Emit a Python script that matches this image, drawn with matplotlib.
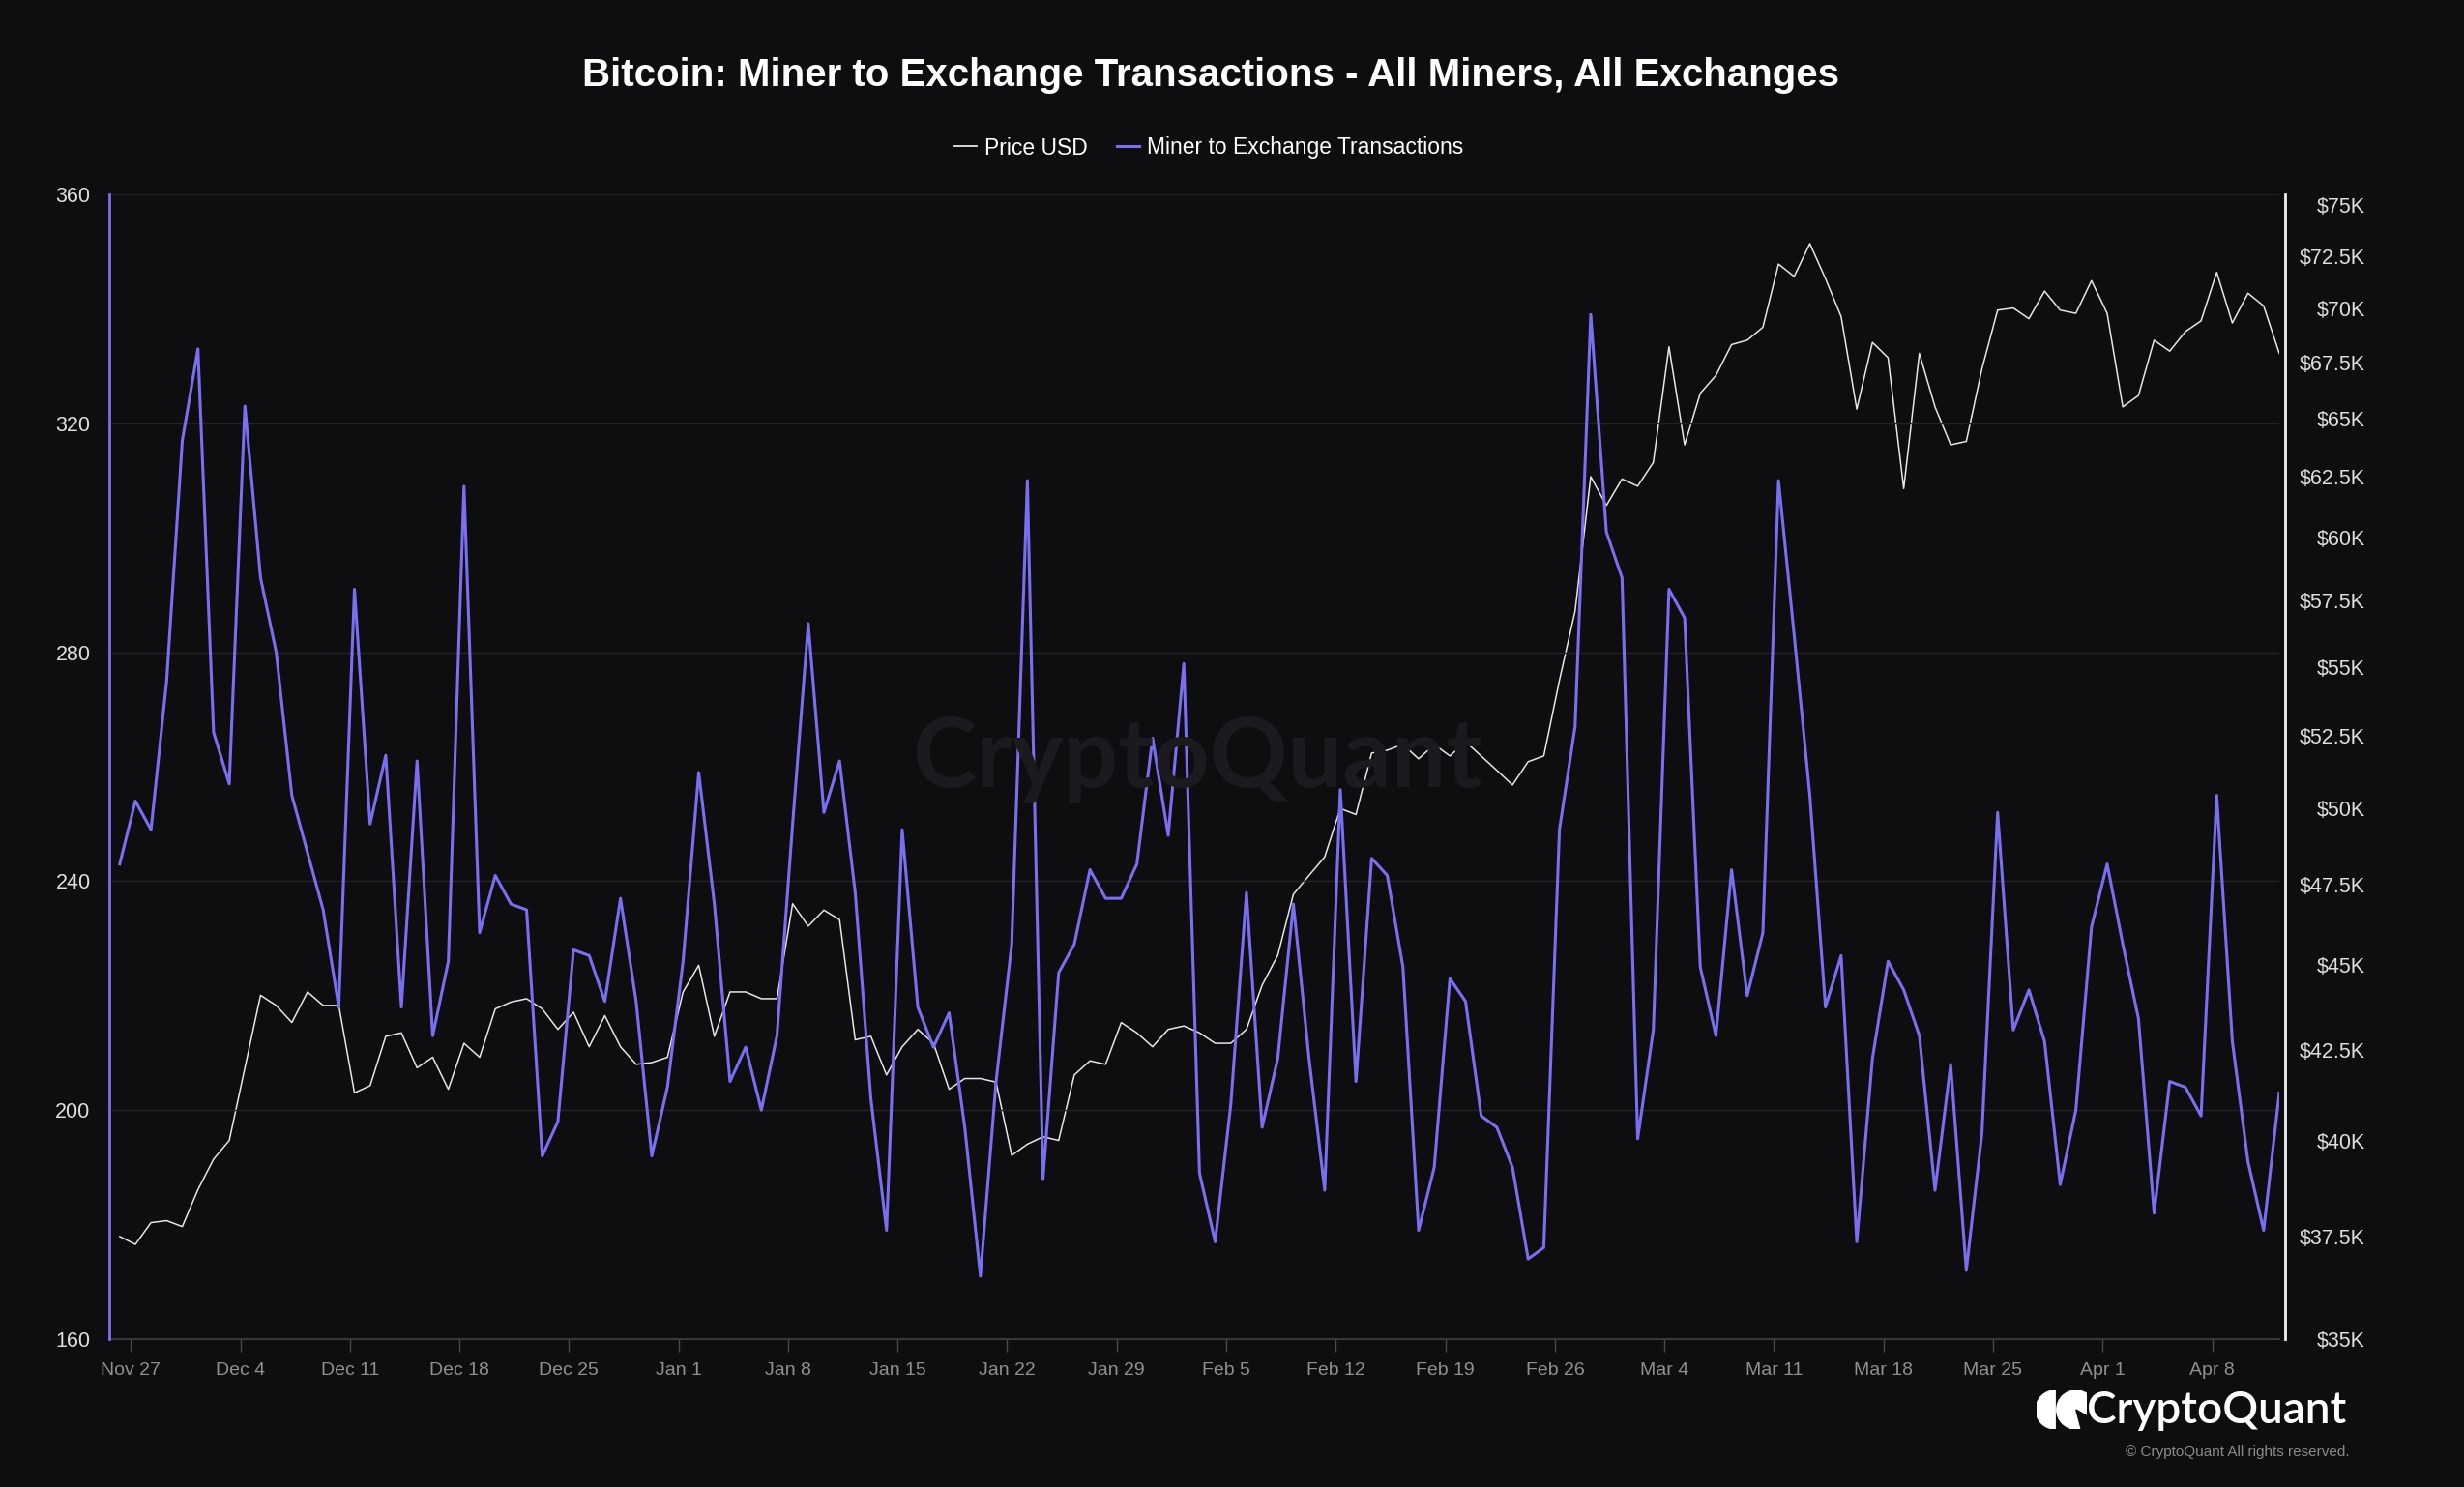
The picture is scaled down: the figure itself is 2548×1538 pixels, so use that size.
import numpy as np
import pandas as pd
import matplotlib
matplotlib.use("Agg")
import matplotlib.pyplot as plt
import matplotlib.dates as mdates
from matplotlib.ticker import NullLocator, NullFormatter
from matplotlib.lines import Line2D
from matplotlib.patches import Wedge, Circle

plt.rcParams['font.family'] = ['Liberation Sans', 'DejaVu Sans']

# ---- data ----
start_date = "2023-11-26"
end_date = "2024-04-12"

miner_tx = [
    243, 254, 249, 275, 317,                                   # Nov 26-30
    333, 266, 257, 323, 293, 280, 255, 245, 235, 218, 291, 250, 262, 218, 261,
    213, 226, 309, 231, 241, 236, 235, 192, 198, 228, 227, 219, 237, 219, 192, 204,  # Dec
    226, 259, 236, 205, 211, 200, 213, 250, 285, 252, 261, 238, 202, 179, 249,
    218, 211, 217, 197, 171, 205, 229, 310, 188, 224, 229, 242, 237, 237, 243, 265,  # Jan
    248, 278, 189, 177, 201, 238, 197, 209, 236, 209, 186, 256, 205, 244, 241,
    225, 179, 190, 223, 219, 199, 197, 190, 174, 176, 249, 267, 339, 301,            # Feb
    293, 195, 214, 291, 286, 225, 213, 242, 220, 231, 310, 283, 255, 218, 227,
    177, 209, 226, 221, 213, 186, 208, 172, 196, 252, 214, 221, 212, 187, 200, 232,  # Mar
    243, 229, 216, 182, 205, 204, 199, 255, 212, 191, 179, 203,                      # Apr
]

price_k = [
    37.5, 37.3, 37.85, 37.9, 37.75,
    38.7, 39.5, 40.0, 42.0, 44.1, 43.8, 43.3, 44.2, 43.8, 43.8, 41.3, 41.5, 42.9, 43.0, 42.0,
    42.3, 41.4, 42.7, 42.3, 43.7, 43.9, 44.0, 43.7, 43.1, 43.6, 42.6, 43.5, 42.6, 42.1, 42.15, 42.3,
    44.2, 45.0, 42.9, 44.2, 44.2, 44.0, 44.0, 46.9, 46.2, 46.7, 46.4, 42.8, 42.9, 41.8, 42.6,
    43.1, 42.7, 41.4, 41.7, 41.7, 41.6, 39.6, 39.9, 40.1, 40.0, 41.8, 42.2, 42.1, 43.3, 43.0, 42.6,
    43.1, 43.2, 43.0, 42.7, 42.7, 43.1, 44.4, 45.3, 47.2, 47.8, 48.4, 50.0, 49.8, 51.9, 52.0,
    52.2, 51.7, 52.2, 51.8, 52.3, 51.8, 51.3, 50.8, 51.6, 51.8, 54.5, 57.1, 62.5, 61.3,
    62.4, 62.1, 63.1, 68.2, 63.85, 66.1, 66.9, 68.3, 68.5, 69.1, 72.1, 71.5, 73.1, 71.4, 69.6,
    65.4, 68.4, 67.7, 62.0, 67.9, 65.5, 63.85, 64.0, 67.2, 69.9, 70.0, 69.5, 70.8, 69.9, 69.75, 71.3,
    69.75, 65.5, 66.0, 68.5, 68.0, 68.9, 69.4, 71.7, 69.3, 70.7, 70.1, 67.9,
]

left_ticks = [160, 200, 240, 280, 320, 360]
price_ticks = [35000, 37500, 40000, 42500, 45000, 47500, 50000, 52500,
               55000, 57500, 60000, 62500, 65000, 67500, 70000, 72500, 75000]

title = "Bitcoin: Miner to Exchange Transactions - All Miners, All Exchanges"
series_names = ["Price USD", "Miner to Exchange Transactions"]

# ---- style ----
BG = "#0e0e11"
PURPLE = "#7a6ff0"
WHITE = "#e6e6e6"
GRID = "#232327"
LABEL = "#dedede"
XLABEL = "#909090"

W, H = 2548, 1538
dates = pd.date_range(start_date, end_date, freq="D")
x = dates + pd.Timedelta(hours=7)
price = np.array(price_k) * 1000

fig = plt.figure(figsize=(W / 100, H / 100), dpi=100, facecolor=BG)
ax = fig.add_axes([113 / W, 1 - 1385 / H, (2357 - 113) / W, (1385 - 201) / H])
ax.set_facecolor(BG)
ax2 = ax.twinx()

# price on the base axes (right side, log scale)
ax.plot(x, price, color=WHITE, lw=1.1, zorder=3)
ax.set_yscale("log")
ax.set_ylim(35000, 75560)
ax.yaxis.tick_right()
ax.yaxis.set_minor_locator(NullLocator())
ax.yaxis.set_minor_formatter(NullFormatter())
ax.set_yticks(price_ticks, [f"${v / 1000:g}K" for v in price_ticks])
ax.tick_params(axis="y", which="both", length=0, pad=60, labelsize=15.5, labelcolor=LABEL)

ax.set_xlim(x[0] - pd.Timedelta(hours=16), x[-1])
ax.xaxis.set_major_locator(mdates.WeekdayLocator(byweekday=mdates.MO))
ax.xaxis.set_major_formatter(mdates.DateFormatter("%b %-d"))
ax.tick_params(axis="x", length=9, width=1, color="#4a4a4e", pad=8,
               labelsize=14, labelcolor=XLABEL)

for s in ["top", "left"]:
    ax.spines[s].set_visible(False)
ax.spines["bottom"].set_color("#3a3a3e")
ax.spines["bottom"].set_linewidth(1.5)
ax.spines["right"].set_color("#f0f0f0")
ax.spines["right"].set_linewidth(2)
ax.spines["right"].set_position(("outward", 4))

# transactions on the twin (left side)
ax2.plot(x, miner_tx, color=PURPLE, lw=2.2, zorder=4)
ax2.set_ylim(160, 360)
ax2.yaxis.tick_left()
ax2.set_yticks(left_ticks)
ax2.tick_params(axis="y", length=0, pad=14, labelsize=15.5, labelcolor=LABEL)
ax2.grid(axis="y", color=GRID, lw=1)
ax2.set_axisbelow(True)
for s in ["top", "right", "bottom"]:
    ax2.spines[s].set_visible(False)
ax2.spines["left"].set_color(PURPLE)
ax2.spines["left"].set_linewidth(2)

# watermark
fig.text(1238 / W, 1 - 785 / H, "CryptoQuant", fontsize=72, color="#1b1b1f",
         ha="center", va="center", family=["Lato", "DejaVu Sans"], weight="bold", zorder=0)

# title and legend
fig.text(1252 / W, 1 - 78 / H, title, ha="center", va="center",
         fontsize=29, weight="bold", color="white")
handles = [Line2D([], [], color=WHITE, lw=1.3), Line2D([], [], color=PURPLE, lw=2.2)]
fig.legend(handles, series_names, loc="center", bbox_to_anchor=(1250 / W, 1 - 153 / H),
           ncol=2, frameon=False, fontsize=16.5, labelcolor="white",
           handlelength=1.0, handletextpad=0.35, columnspacing=1.3)

# logo bottom right
lax = fig.add_axes([2106 / W, 1 - 1478 / H, 52 / W, 40 / H])
lax.set_xlim(0, 1.3)
lax.set_ylim(0, 1)
lax.set_aspect("equal")
lax.axis("off")
lax.add_patch(Wedge((0.48, 0.5), 0.5, 90, 270, color="white"))
lax.add_patch(Circle((1.02, 0.5), 0.5, color="white"))
lax.add_patch(Wedge((1.02, 0.5), 0.52, 285, 330, color=BG))
fig.text(2426 / W, 1 - 1459 / H, "CryptoQuant", ha="right", va="center",
         fontsize=33, color="white", family=["Lato", "DejaVu Sans"], weight="semibold")
fig.text(2429 / W, 1 - 1502 / H, "\u00a9 CryptoQuant All rights reserved.", ha="right",
         va="center", fontsize=11, color="#8a8a8a")

# right-align the price labels (ticks exist only after a draw)
fig.canvas.draw()
for t in ax.yaxis.get_major_ticks():
    t.label2.set_horizontalalignment("right")

fig.savefig("out.png", dpi=100, facecolor=BG)
